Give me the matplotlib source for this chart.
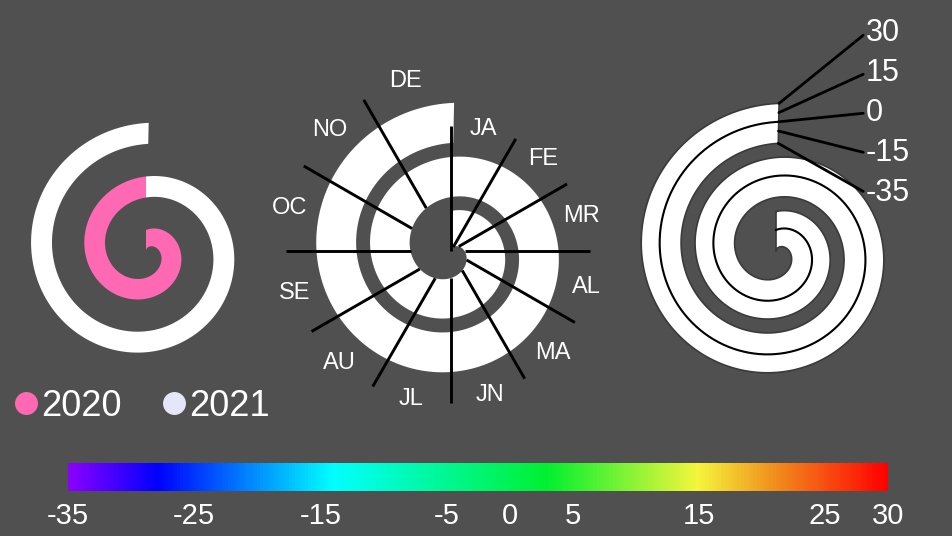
import numpy as np
import matplotlib
matplotlib.use("Agg")
import matplotlib.pyplot as plt
from matplotlib.colors import LinearSegmentedColormap, Normalize
from matplotlib.cm import ScalarMappable
from matplotlib.lines import Line2D

plt.rcParams["font.family"] = ["Liberation Sans", "DejaVu Sans"]
plt.rcParams["axes.unicode_minus"] = False

BG = "#505050"
W, H = 952, 536

# data
years = ["2020", "2021"]
year_legend_colors = ["#ff69b4", "#e6e6fa"]
year_band_colors = ["#ff69b4", "#ffffff"]

months = ["JA", "FE", "MR", "AL", "MA", "JN", "JL", "AU", "SE", "OC", "NO", "DE"]

temp_min, temp_max = -35, 30
temp_ticks = [-35, -25, -15, -5, 0, 5, 15, 25, 30]
temp_marks = [30, 15, 0, -15, -35]

cmap_values = [-35, -28, -14, 3, 15, 21, 30]
cmap_colors = ["#8a00ff", "#0000ff", "#00ffff", "#00f030", "#f5f53c", "#f0901e", "#ff0000"]


def polar_axes(fig, cx, cy, R):
    # square polar axes centred on image pixel (cx, cy), 1 data unit = 1 px
    ax = fig.add_axes([(cx - R) / W, (H - cy - R) / H, 2 * R / W, 2 * R / H],
                      projection="polar")
    ax.set_theta_zero_location("N")
    ax.set_theta_direction(-1)
    ax.set_ylim(0, R)
    ax.set_axis_off()
    return ax


def spiral_band(ax, t0, t1, pitch, width, **kw):
    t = np.linspace(t0, t1, 500)
    r_in = pitch * t / (2 * np.pi)
    r_out = r_in + width
    ax.fill(np.r_[t, t[::-1]], np.r_[r_in, r_out[::-1]], **kw)


fig = plt.figure(figsize=(W / 100, H / 100), dpi=100, facecolor=BG)

# left: one turn per year
ax1 = polar_axes(fig, 146, 251, 140)
pitch1, width1 = 53.5, 21
end_extra = np.radians(1.2)
for i, (year, col) in enumerate(zip(years, year_band_colors)):
    t0 = 2 * np.pi * i
    t1 = 2 * np.pi * (i + 1) + (end_extra if i == len(years) - 1 else 0)
    spiral_band(ax1, t0, t1, pitch1, width1, color=col, lw=0)

handles = [Line2D([], [], marker="o", linestyle="", markersize=15.5,
                  markerfacecolor=c, markeredgecolor=c) for c in year_legend_colors]
fig.legend(handles, years, loc="center left", bbox_to_anchor=(12 / W, (H - 406) / H),
           frameon=False, ncol=2, handlelength=0.8, handletextpad=0.02,
           columnspacing=1.03, fontsize=26, labelcolor="white",
           borderpad=0, borderaxespad=0)

# middle: months
ax2 = polar_axes(fig, 451, 251, 200)
pitch2, width2 = 54, 40
spiral_band(ax2, 0, 4 * np.pi + end_extra, pitch2, width2, color="white", lw=0)
step = 2 * np.pi / len(months)
for i, m in enumerate(months):
    t = i * step
    r0 = pitch2 * t / (2 * np.pi)
    ax2.plot([t, t], [r0, r0 + 125], color="black", lw=2.1, solid_capstyle="butt")
    tm = t + step / 2
    ax2.text(tm, pitch2 * tm / (2 * np.pi) + 124, m, color="white", fontsize=17,
             ha="center", va="center", clip_on=False)

# right: temperature scale spiral
ax3 = polar_axes(fig, 776, 251.5, 160)
t_end = 4 * np.pi + end_extra
spiral_band(ax3, 0, t_end, pitch2, width2, facecolor="white",
            edgecolor="#3a3a3a", lw=1.2)
t = np.linspace(0, t_end, 500)
frac0 = (0 - temp_min) / (temp_max - temp_min)
ax3.plot(t, pitch2 * t / (2 * np.pi) + width2 * frac0, color="black", lw=1.5)
for i, v in enumerate(temp_marks):
    r_v = pitch2 * t_end / (2 * np.pi) + width2 * (v - temp_min) / (temp_max - temp_min)
    ax3.annotate(str(v), xy=(t_end, r_v), xycoords="data",
                 xytext=(866, H - (33 + 40 * i)), textcoords="figure pixels",
                 color="white", fontsize=22, ha="left", va="center",
                 annotation_clip=False,
                 arrowprops=dict(arrowstyle="-", color="black", lw=2,
                                 shrinkA=0, shrinkB=0, relpos=(0, 0.5)))

# colour bar
positions = [(v - temp_min) / (temp_max - temp_min) for v in cmap_values]
cmap = LinearSegmentedColormap.from_list("temp", list(zip(positions, cmap_colors)))
cax = fig.add_axes([68 / W, (H - 491) / H, 820 / W, 28 / H])
cb = fig.colorbar(ScalarMappable(norm=Normalize(temp_min, temp_max), cmap=cmap),
                  cax=cax, orientation="horizontal", ticks=temp_ticks)
cb.outline.set_visible(False)
cax.tick_params(length=0, labelsize=21, labelcolor="white", pad=8)

fig.savefig("out.png", dpi=100, facecolor=BG)
